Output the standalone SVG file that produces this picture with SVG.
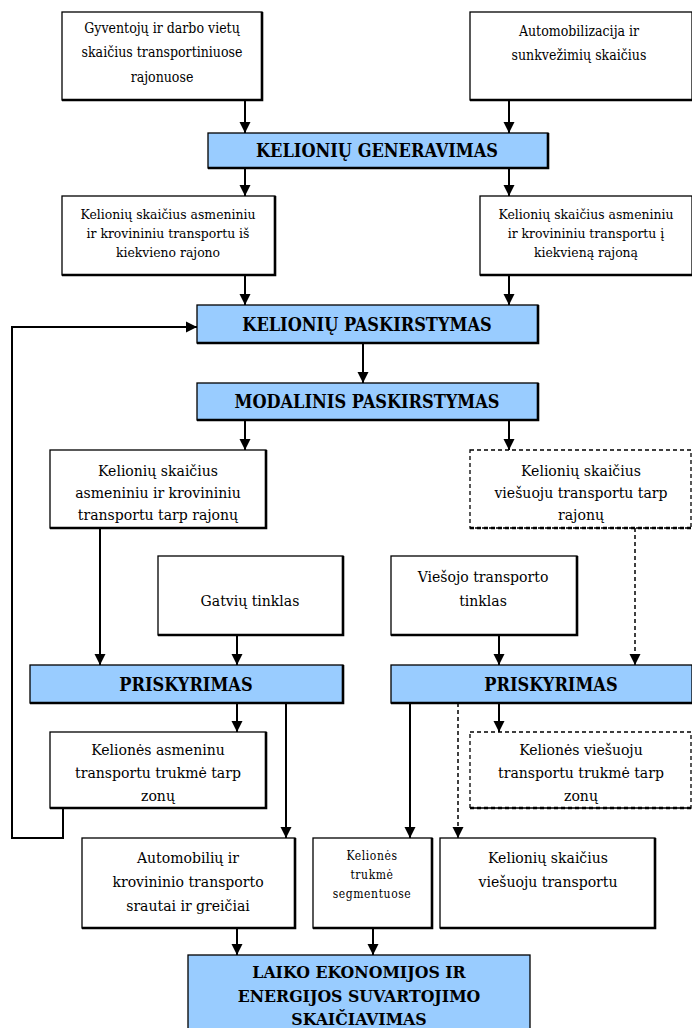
<svg xmlns="http://www.w3.org/2000/svg" width="692" height="1028" viewBox="0 0 692 1028">
<defs>
<style>
.box{fill:#fff;stroke:#000;stroke-width:1.3}
.dbox{fill:#fff;stroke:#000;stroke-width:1.3;stroke-dasharray:4,3}
.proc{fill:#99ccff;stroke:#000;stroke-width:1.3}
.sh{stroke:#000;stroke-width:2.6;fill:none}
.dsh{stroke:#000;stroke-width:2.6;fill:none;stroke-dasharray:4,3}
text{font-family:"DejaVu Serif Condensed","DejaVu Serif",serif;font-stretch:condensed;fill:#000;text-anchor:middle}
.ta{font-size:14px}
.t{font-size:15.6px}
.ts{font-size:13.8px}
.tx{font-size:12px;letter-spacing:0.6px}
.h{font-size:18px;font-weight:bold}
.hl{font-size:17.5px;font-weight:bold}
.c{stroke:#000;stroke-width:2;fill:none}
.cd{stroke:#000;stroke-width:1.5;fill:none;stroke-dasharray:4,3}
</style>
<marker id="ah" viewBox="0 0 10 10" markerWidth="11" markerHeight="12" refX="10" refY="5" orient="auto" markerUnits="userSpaceOnUse">
<path d="M0,0 L10,5 L0,10 z" fill="#000"/>
</marker>
</defs>

<g id="connectors">
<line class="c" x1="245" y1="100" x2="245" y2="133" marker-end="url(#ah)"/>
<line class="c" x1="509" y1="100" x2="509" y2="133" marker-end="url(#ah)"/>
<line class="c" x1="245" y1="168" x2="245" y2="196" marker-end="url(#ah)"/>
<line class="c" x1="509" y1="168" x2="509" y2="196" marker-end="url(#ah)"/>
<line class="c" x1="245" y1="275" x2="245" y2="305" marker-end="url(#ah)"/>
<line class="c" x1="509" y1="275" x2="509" y2="305" marker-end="url(#ah)"/>
<line class="c" x1="363" y1="343" x2="363" y2="383" marker-end="url(#ah)"/>
<line class="c" x1="245" y1="420" x2="245" y2="450" marker-end="url(#ah)"/>
<line class="c" x1="509" y1="420" x2="509" y2="450" marker-end="url(#ah)"/>
<line class="c" x1="100" y1="528" x2="100" y2="665" marker-end="url(#ah)"/>
<line class="c" x1="237" y1="635" x2="237" y2="665" marker-end="url(#ah)"/>
<line class="c" x1="499" y1="635" x2="499" y2="665" marker-end="url(#ah)"/>
<line class="cd" x1="635" y1="528" x2="635" y2="665" marker-end="url(#ah)"/>
<line class="c" x1="237" y1="703" x2="237" y2="732" marker-end="url(#ah)"/>
<line class="c" x1="286" y1="703" x2="286" y2="838" marker-end="url(#ah)"/>
<line class="c" x1="410" y1="703" x2="410" y2="838" marker-end="url(#ah)"/>
<line class="cd" x1="458" y1="703" x2="458" y2="838" marker-end="url(#ah)"/>
<line class="c" x1="499" y1="703" x2="499" y2="732" marker-end="url(#ah)"/>
<polyline class="c" points="63,808 63,838 12,838 12,327 197,327" marker-end="url(#ah)"/>
<line class="c" x1="237" y1="928" x2="237" y2="955" marker-end="url(#ah)"/>
<line class="c" x1="373" y1="928" x2="373" y2="955" marker-end="url(#ah)"/>
</g>

<g id="n-gyventoju">
<rect class="box" x="62" y="12" width="200" height="88"/>
<polyline class="sh" points="62,100 262,100 262,12"/>
<text class="ta" x="162" y="33">Gyventojų ir darbo vietų</text>
<text class="ta" x="162" y="57">skaičius transportiniuose</text>
<text class="ta" x="162" y="82">rajonuose</text>
</g>

<g id="n-automobilizacija">
<rect class="box" x="470" y="12" width="222" height="88"/>
<line class="sh" x1="470" y1="100" x2="692" y2="100"/>
<text class="ta" x="579" y="36">Automobilizacija ir</text>
<text class="ta" x="579" y="60">sunkvežimių skaičius</text>
</g>

<g id="n-generavimas">
<rect class="proc" x="208" y="133" width="340" height="35"/>
<polyline class="sh" points="208,168 548,168 548,133"/>
<text class="h" x="377" y="157">KELIONIŲ GENERAVIMAS</text>
</g>

<g id="n-is-rajono">
<rect class="box" x="62" y="196" width="213" height="79"/>
<polyline class="sh" points="62,275 275,275 275,196"/>
<text class="ts" x="168" y="219">Kelionių skaičius asmeniniu</text>
<text class="ts" x="168" y="238">ir krovininiu transportu iš</text>
<text class="ts" x="168" y="257">kiekvieno rajono</text>
</g>

<g id="n-i-rajona">
<rect class="box" x="480" y="196" width="212" height="79"/>
<line class="sh" x1="480" y1="275" x2="692" y2="275"/>
<text class="ts" x="586" y="219">Kelionių skaičius asmeniniu</text>
<text class="ts" x="586" y="238">ir krovininiu transportu į</text>
<text class="ts" x="586" y="257">kiekvieną rajoną</text>
</g>

<g id="n-paskirstymas">
<rect class="proc" x="197" y="305" width="341" height="38"/>
<polyline class="sh" points="197,343 538,343 538,305"/>
<text class="h" x="367" y="331">KELIONIŲ PASKIRSTYMAS</text>
</g>

<g id="n-modalinis">
<rect class="proc" x="197" y="383" width="341" height="37"/>
<polyline class="sh" points="197,420 538,420 538,383"/>
<text class="h" x="367" y="408">MODALINIS PASKIRSTYMAS</text>
</g>

<g id="n-tarp-rajonu">
<rect class="box" x="50" y="450" width="216" height="78"/>
<polyline class="sh" points="50,528 266,528 266,450"/>
<text class="t" x="158" y="476">Kelionių skaičius</text>
<text class="t" x="158" y="498">asmeniniu ir krovininiu</text>
<text class="t" x="158" y="520">transportu tarp rajonų</text>
</g>

<g id="n-viesuoju-tarp">
<rect class="dbox" x="470" y="450" width="221" height="78"/>
<line class="dsh" x1="470" y1="528" x2="692" y2="528"/>
<text class="t" x="581" y="476">Kelionių skaičius</text>
<text class="t" x="581" y="498">viešuoju transportu tarp</text>
<text class="t" x="581" y="520">rajonų</text>
</g>

<g id="n-gatviu">
<rect class="box" x="158" y="556" width="185" height="79"/>
<polyline class="sh" points="158,635 343,635 343,556"/>
<text class="t" x="250" y="606">Gatvių tinklas</text>
</g>

<g id="n-viesojo-tinklas">
<rect class="box" x="391" y="556" width="186" height="79"/>
<polyline class="sh" points="391,635 577,635 577,556"/>
<text class="t" x="483" y="582">Viešojo transporto</text>
<text class="t" x="483" y="606">tinklas</text>
</g>

<g id="n-priskyrimas-l">
<rect class="proc" x="30" y="665" width="313" height="38"/>
<polyline class="sh" points="30,703 343,703 343,665"/>
<text class="h" x="186" y="691">PRISKYRIMAS</text>
</g>

<g id="n-priskyrimas-r">
<rect class="proc" x="391" y="665" width="301" height="38"/>
<line class="sh" x1="391" y1="703" x2="692" y2="703"/>
<text class="h" x="551" y="691">PRISKYRIMAS</text>
</g>

<g id="n-asmeninu-trukme">
<rect class="box" x="50" y="732" width="216" height="76"/>
<polyline class="sh" points="50,808 266,808 266,732"/>
<text class="t" x="158" y="755">Kelionės asmeninu</text>
<text class="t" x="158" y="778">transportu trukmė tarp</text>
<text class="t" x="158" y="801">zonų</text>
</g>

<g id="n-viesuoju-trukme">
<rect class="dbox" x="470" y="732" width="221" height="76"/>
<line class="dsh" x1="470" y1="808" x2="692" y2="808"/>
<text class="t" x="581" y="755">Kelionės viešuoju</text>
<text class="t" x="581" y="778">transportu trukmė tarp</text>
<text class="t" x="581" y="801">zonų</text>
</g>

<g id="n-srautai">
<rect class="box" x="82" y="838" width="213" height="90"/>
<polyline class="sh" points="82,928 295,928 295,838"/>
<text class="t" x="188" y="863">Automobilių ir</text>
<text class="t" x="188" y="887">krovininio transporto</text>
<text class="t" x="188" y="911">srautai ir greičiai</text>
</g>

<g id="n-segmentuose">
<rect class="box" x="313" y="838" width="119" height="90"/>
<polyline class="sh" points="313,928 432,928 432,838"/>
<text class="tx" x="372" y="860">Kelionės</text>
<text class="tx" x="372" y="879">trukmė</text>
<text class="tx" x="372" y="898">segmentuose</text>
</g>

<g id="n-viesuoju-skaicius">
<rect class="box" x="440" y="838" width="215" height="90"/>
<polyline class="sh" points="440,928 655,928 655,838"/>
<text class="t" x="548" y="863">Kelionių skaičius</text>
<text class="t" x="548" y="887">viešuoju transportu</text>
</g>

<g id="n-laiko">
<rect class="proc" x="188" y="955" width="342" height="80"/>
<text class="hl" x="359" y="978">LAIKO EKONOMIJOS IR</text>
<text class="hl" x="359" y="1002">ENERGIJOS SUVARTOJIMO</text>
<text class="hl" x="359" y="1025">SKAIČIAVIMAS</text>
</g>
</svg>
